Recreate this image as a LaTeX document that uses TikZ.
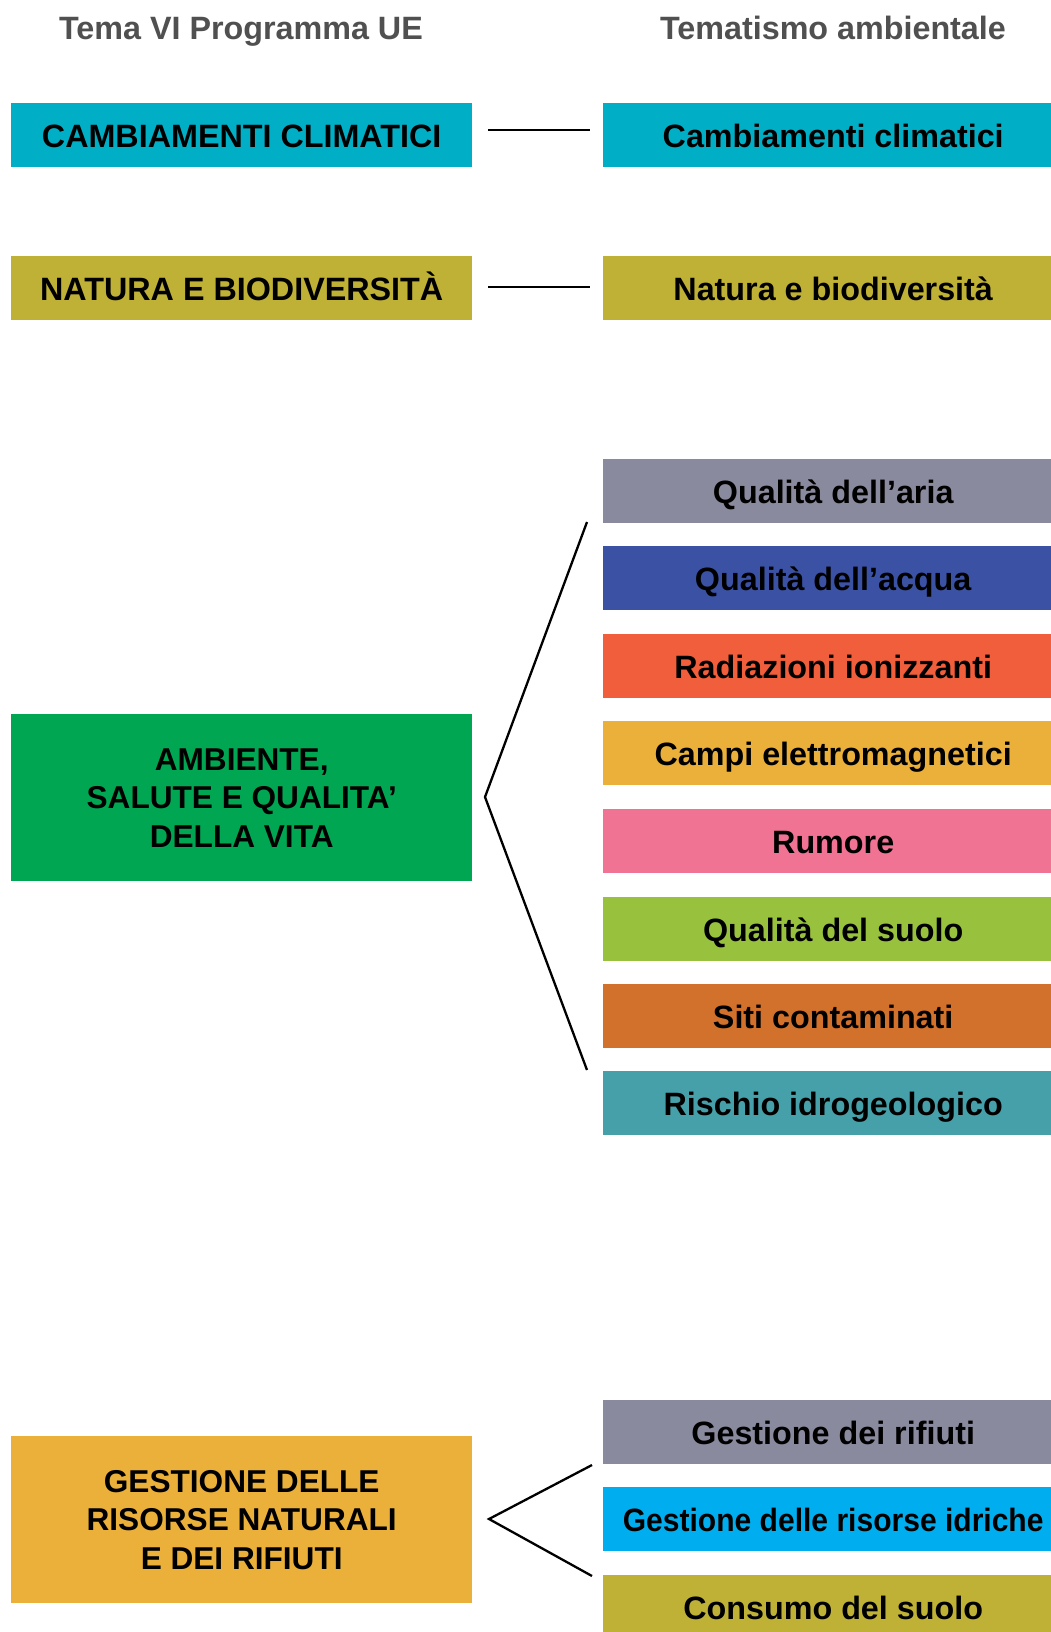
\documentclass[tikz,border=0pt]{standalone}
\usepackage{fontspec}
\usepackage{graphicx}
\setmainfont{Liberation Sans}
\definecolor{ctitle}{RGB}{80,80,80}
\definecolor{cclima}{RGB}{0,175,198}
\definecolor{colive}{RGB}{191,176,54}
\definecolor{caria}{RGB}{138,138,158}
\definecolor{cacqua}{RGB}{59,81,163}
\definecolor{cradia}{RGB}{241,94,59}
\definecolor{ccampi}{RGB}{234,176,58}
\definecolor{crumore}{RGB}{240,115,147}
\definecolor{csuolo}{RGB}{152,193,61}
\definecolor{csiti}{RGB}{210,113,43}
\definecolor{crischio}{RGB}{69,160,170}
\definecolor{cgreen}{RGB}{0,166,81}
\definecolor{cidriche}{RGB}{0,174,239}
\begin{document}
\begin{tikzpicture}[x=1pt,y=-1pt,
  title/.style={font=\fontsize{32.3}{38}\selectfont\bfseries, text=ctitle, anchor=base, inner sep=0pt},
  lbox/.style={rectangle, inner sep=0pt, minimum width=461pt, minimum height=64pt, anchor=north west,
    font=\fontsize{32.3}{38.5}\selectfont\bfseries, text height=25pt, text depth=0pt},
  rbox/.style={lbox, minimum width=460pt},
  bigbox/.style={rectangle, inner sep=0pt, minimum width=461pt, minimum height=167pt, anchor=north west,
    align=center, font=\fontsize{31.6}{38.5}\selectfont\bfseries},
  conn/.style={line width=2.3pt, black, line join=miter}]
\useasboundingbox (0,0) rectangle (1051,1632);
\clip (0,0) rectangle (1051,1632);
\fill[white] (0,0) rectangle (1051,1632);

\node[title] (t1) at (241,40) {Tema VI Programma UE};
\node[title] (t2) at (833,40) {Tematismo ambientale};

% left column
\node[lbox, fill=cclima] (l1) at (11,103) {CAMBIAMENTI CLIMATICI};
\node[lbox, fill=colive] (l2) at (11,256) {NATURA E BIODIVERSITÀ};
\node[bigbox, fill=cgreen] (l3) at (11,714) {AMBIENTE,\\SALUTE E QUALITA’\\DELLA VITA};
\node[bigbox, fill=ccampi] (l4) at (11,1436) {GESTIONE DELLE\\RISORSE NATURALI\\E DEI RIFIUTI};

% right column
\node[rbox, fill=cclima] (r1) at (603,103) {Cambiamenti climatici};
\node[rbox, fill=colive] (r2) at (603,256) {Natura e biodiversità};
\node[rbox, fill=caria] (r3) at (603,459) {Qualità dell’aria};
\node[rbox, fill=cacqua] (r4) at (603,546) {Qualità dell’acqua};
\node[rbox, fill=cradia] (r5) at (603,634) {Radiazioni ionizzanti};
\node[rbox, fill=ccampi] (r6) at (603,721) {Campi elettromagnetici};
\node[rbox, fill=crumore] (r7) at (603,809) {Rumore};
\node[rbox, fill=csuolo] (r8) at (603,897) {Qualità del suolo};
\node[rbox, fill=csiti] (r9) at (603,984) {Siti contaminati};
\node[rbox, fill=crischio] (r10) at (603,1071) {Rischio idrogeologico};
\node[rbox, fill=caria] (r11) at (603,1400) {Gestione dei rifiuti};
\node[rbox, fill=cidriche] (r12) at (603,1487) {\scalebox{0.93}[1]{Gestione delle risorse idriche}};
\node[rbox, fill=colive] (r13) at (603,1575) {Consumo del suolo};

% connectors
\coordinate (a1) at (488,130); \coordinate (b1) at (590,130);
\draw[conn] (a1) -- (b1);
\coordinate (a2) at (488,287); \coordinate (b2) at (590,287);
\draw[conn] (a2) -- (b2);
\coordinate (f1t) at (587,522); \coordinate (f1a) at (485,797); \coordinate (f1b) at (587,1070);
\draw[conn] (f1t) -- (f1a) -- (f1b);
\coordinate (f2t) at (592,1465); \coordinate (f2a) at (489,1519); \coordinate (f2b) at (592,1576);
\draw[conn] (f2t) -- (f2a) -- (f2b);
\end{tikzpicture}
\end{document}
